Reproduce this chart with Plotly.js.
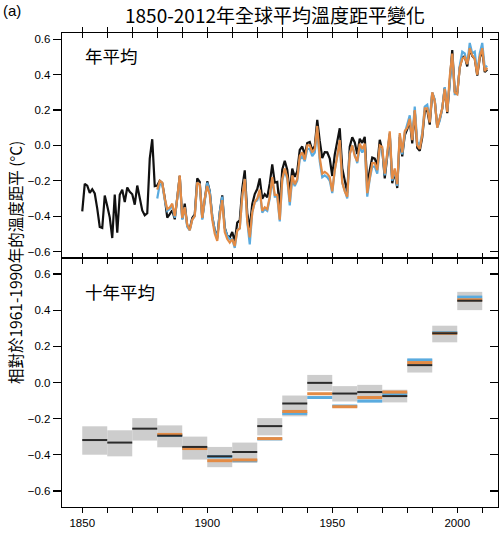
<!DOCTYPE html>
<html>
<head>
<meta charset="utf-8">
<script src="https://cdn.plot.ly/plotly-3.0.1.min.js"></script>
<style>html,body{margin:0;padding:0;background:#fff;}#chart{width:500px;height:535px;}</style>
</head>
<body>
<div id="chart"></div>
<script>
// ---------- DATA ----------
var firstYearHad = 1850;
var firstYearOther = 1880;

// HadCRUT4 annual anomaly (black), 1850-2012
var hadAnnual = [
 -0.373,-0.218,-0.228,-0.269,-0.248,-0.272,-0.358,-0.461,-0.467,-0.284,
 -0.343,-0.407,-0.524,-0.278,-0.494,-0.279,-0.251,-0.321,-0.238,-0.262,
 -0.276,-0.335,-0.227,-0.304,-0.368,-0.395,-0.384,-0.075,0.035,-0.230,
 -0.227,-0.200,-0.213,-0.296,-0.409,-0.389,-0.367,-0.418,-0.307,-0.172,
 -0.416,-0.330,-0.455,-0.473,-0.410,-0.390,-0.186,-0.206,-0.412,-0.289,
 -0.203,-0.259,-0.402,-0.479,-0.520,-0.377,-0.283,-0.465,-0.511,-0.522,
 -0.490,-0.544,-0.437,-0.424,-0.244,-0.141,-0.383,-0.468,-0.333,-0.275,
 -0.247,-0.187,-0.302,-0.276,-0.294,-0.215,-0.108,-0.210,-0.206,-0.350,
 -0.137,-0.087,-0.137,-0.273,-0.131,-0.178,-0.147,-0.026,-0.006,-0.052,
 0.014,0.020,-0.027,-0.004,0.144,0.025,-0.071,-0.038,-0.039,-0.074,
 -0.173,-0.052,0.028,0.097,-0.129,-0.190,-0.267,-0.007,0.046,0.017,
 -0.049,0.038,0.014,0.048,-0.223,-0.140,-0.068,-0.074,-0.113,0.032,
 -0.027,-0.186,-0.065,0.062,-0.214,-0.149,-0.241,0.047,-0.062,0.057,
 0.092,0.140,0.011,0.194,-0.014,-0.030,0.045,0.192,0.198,0.118,
 0.296,0.254,0.105,0.148,0.208,0.325,0.183,0.390,0.539,0.306,
 0.294,0.441,0.496,0.505,0.447,0.545,0.506,0.491,0.395,0.494,
 0.540,0.415,0.430
];

// Orange series annual anomaly, 1880-2012
var orangeAnnual = [
 -0.25,-0.20,-0.21,-0.30,-0.36,-0.35,-0.33,-0.40,-0.30,-0.17,
 -0.41,-0.35,-0.45,-0.48,-0.42,-0.40,-0.21,-0.22,-0.41,-0.30,
 -0.23,-0.28,-0.42,-0.50,-0.54,-0.40,-0.31,-0.49,-0.53,-0.55,
 -0.53,-0.57,-0.48,-0.47,-0.29,-0.19,-0.43,-0.52,-0.38,-0.32,
 -0.30,-0.25,-0.37,-0.35,-0.36,-0.29,-0.18,-0.28,-0.28,-0.42,
 -0.19,-0.13,-0.18,-0.32,-0.17,-0.22,-0.19,-0.06,-0.04,-0.08,
 0.00,0.00,-0.04,-0.02,0.11,-0.07,-0.16,-0.15,-0.16,-0.18,
 -0.26,-0.14,-0.06,0.03,-0.21,-0.26,-0.29,-0.05,0.00,-0.06,
 -0.09,0.01,-0.02,0.01,-0.27,-0.17,-0.10,-0.10,-0.14,0.00,
 -0.01,-0.16,-0.03,0.08,-0.19,-0.13,-0.22,0.07,-0.04,0.08,
 0.10,0.15,0.03,0.20,0.00,-0.02,0.06,0.21,0.21,0.13,
 0.30,0.25,0.10,0.15,0.21,0.32,0.19,0.39,0.52,0.30,
 0.29,0.44,0.49,0.50,0.46,0.55,0.51,0.49,0.40,0.50,
 0.55,0.42,0.44
];

// Blue series annual anomaly, 1880-2012
var blueAnnual = [
 -0.30,-0.22,-0.22,-0.31,-0.37,-0.36,-0.34,-0.41,-0.30,-0.18,
 -0.42,-0.35,-0.46,-0.48,-0.42,-0.40,-0.21,-0.22,-0.42,-0.31,
 -0.21,-0.26,-0.40,-0.48,-0.53,-0.38,-0.29,-0.47,-0.51,-0.53,
 -0.53,-0.58,-0.48,-0.47,-0.29,-0.19,-0.43,-0.56,-0.38,-0.32,
 -0.31,-0.26,-0.38,-0.36,-0.37,-0.30,-0.19,-0.29,-0.29,-0.43,
 -0.20,-0.14,-0.19,-0.34,-0.19,-0.23,-0.20,-0.08,-0.06,-0.09,
 -0.02,-0.02,-0.06,-0.04,0.09,-0.09,-0.18,-0.17,-0.18,-0.20,
 -0.27,-0.14,-0.07,0.02,-0.21,-0.26,-0.30,-0.05,0.00,-0.05,
 -0.10,-0.01,-0.04,-0.01,-0.29,-0.19,-0.12,-0.12,-0.16,-0.02,
 -0.02,-0.17,-0.05,0.07,-0.20,-0.14,-0.23,0.06,-0.05,0.07,
 0.12,0.17,0.04,0.22,0.02,0.00,0.07,0.22,0.23,0.15,
 0.30,0.26,0.10,0.14,0.21,0.33,0.20,0.38,0.51,0.29,
 0.29,0.45,0.53,0.52,0.46,0.58,0.52,0.53,0.41,0.52,
 0.58,0.44,0.45
];

// Decadal means (bottom panel)
var decadeStarts = [1850,1860,1870,1880,1890,1900,1910,1920,1930,1940,1950,1960,1970,1980,1990,2000];
var hadDecadal   = [-0.318,-0.332,-0.255,-0.294,-0.356,-0.408,-0.384,-0.241,-0.116,-0.002,-0.061,-0.053,-0.075,0.096,0.272,0.452];
var hadDecLow    = [-0.399,-0.408,-0.321,-0.358,-0.426,-0.468,-0.444,-0.292,-0.187,-0.046,-0.105,-0.096,-0.110,0.055,0.222,0.400];
var hadDecHigh   = [-0.242,-0.264,-0.197,-0.237,-0.299,-0.356,-0.332,-0.197,-0.072,0.042,-0.020,-0.013,-0.040,0.130,0.314,0.501];
var orangeDecadal= [null,null,null,-0.287,-0.365,-0.432,-0.428,-0.310,-0.160,-0.062,-0.134,-0.083,-0.053,0.110,0.272,0.457];
var blueDecadal  = [null,null,null,-0.292,-0.362,-0.410,-0.432,-0.312,-0.171,-0.083,-0.130,-0.103,-0.062,0.125,0.276,0.472];

var yTicks = [-0.6,-0.4,-0.2,0,0.2,0.4,0.6];

// ---------- BUILD ----------
function yearsFrom(start, n){ var a=[]; for(var i=0;i<n;i++) a.push(start+i); return a; }
var yearsHad = yearsFrom(firstYearHad, hadAnnual.length);
var yearsOther = yearsFrom(firstYearOther, orangeAnnual.length);

function segs(vals){
  var xs=[], ys=[];
  for(var i=0;i<decadeStarts.length;i++){
    if(vals[i]===null) continue;
    xs.push(decadeStarts[i], decadeStarts[i]+10, null);
    ys.push(vals[i], vals[i], null);
  }
  return {x:xs, y:ys};
}
var boxX=[], boxH=[];
for(var i=0;i<decadeStarts.length;i++){ boxX.push(decadeStarts[i]+5); boxH.push(hadDecHigh[i]-hadDecLow[i]); }

var cBlack='#111111', cOrange='#E38B45', cBlue='#5AABDF', cGray='#cdcdcd';
var sB = segs(blueDecadal), sO = segs(orangeDecadal), sK = segs(hadDecadal);

var traces = [
  {type:'scatter', mode:'lines', x:yearsHad, y:hadAnnual, xaxis:'x2', yaxis:'y2', line:{color:cBlack, width:2.2}, hoverinfo:'skip'},
  {type:'scatter', mode:'lines', x:yearsOther, y:blueAnnual, xaxis:'x2', yaxis:'y2', line:{color:cBlue, width:2.2}, hoverinfo:'skip'},
  {type:'scatter', mode:'lines', x:yearsOther, y:orangeAnnual, xaxis:'x2', yaxis:'y2', line:{color:cOrange, width:2.2}, hoverinfo:'skip'},
  {type:'bar', x:boxX, y:boxH, base:hadDecLow, width:10, xaxis:'x', yaxis:'y', marker:{color:cGray, line:{width:0}}, hoverinfo:'skip'},
  {type:'scatter', mode:'lines', x:sB.x, y:sB.y, xaxis:'x', yaxis:'y', line:{color:cBlue, width:3}, connectgaps:false, hoverinfo:'skip'},
  {type:'scatter', mode:'lines', x:sO.x, y:sO.y, xaxis:'x', yaxis:'y', line:{color:cOrange, width:3}, connectgaps:false, hoverinfo:'skip'},
  {type:'scatter', mode:'lines', x:sK.x, y:sK.y, xaxis:'x', yaxis:'y', line:{color:'#2a2a2a', width:2}, connectgaps:false, hoverinfo:'skip'},
  {type:'scatter', mode:'lines', x:[], y:[], xaxis:'x3', yaxis:'y3', hoverinfo:'skip'},
  {type:'scatter', mode:'lines', x:[], y:[], xaxis:'x2', yaxis:'y4', hoverinfo:'skip'}
];

var xr = [1841.9, 2016.3];
var tickFont = {family:'Liberation Sans, Arial, sans-serif', size:11.5, color:'#000'};
var cjk = 'Noto Sans CJK TC, Noto Sans CJK SC, sans-serif';
var split = 0.5253;

var layout = {
  width:500, height:535,
  margin:{l:62, r:2, t:33, b:28, pad:0},
  paper_bgcolor:'#fff', plot_bgcolor:'#fff',
  showlegend:false, barmode:'overlay',
  title:{text:'1850-2012年全球平均溫度距平變化', font:{family:cjk, size:19, color:'#000'},
         x:0.55, xanchor:'center', y:1-16/535, yanchor:'middle'},
  xaxis:{domain:[0,1], anchor:'y', range:xr, tickmode:'linear', tick0:1850, dtick:50,
         ticks:'outside', ticklen:5, tickwidth:1.2, tickcolor:'#000',
         minor:{tickmode:'linear', tick0:1850, dtick:10, ticks:'outside', ticklen:5, tickwidth:1.2, tickcolor:'#000', showgrid:false},
         showline:true, linecolor:'#000', linewidth:1.3, mirror:true, showgrid:false, zeroline:false, tickfont:tickFont},
  xaxis2:{domain:[0,1], anchor:'y2', range:xr, tickmode:'linear', tick0:1850, dtick:10,
         ticks:'inside', ticklen:5, tickwidth:1.2, tickcolor:'#000', showticklabels:false,
         showline:true, linecolor:'#000', linewidth:1.3, mirror:'allticks', showgrid:false, zeroline:false},
  xaxis3:{overlaying:'x', anchor:'y3', side:'top', range:xr, tickmode:'linear', tick0:1850, dtick:10,
         ticks:'inside', ticklen:4, tickwidth:1.2, tickcolor:'#000', showticklabels:false,
         showline:false, showgrid:false, zeroline:false},
  yaxis:{domain:[0,split], anchor:'x', range:[-0.688,0.688], tickmode:'array', tickvals:yTicks, tickformat:'.1f',
         ticks:'outside', ticklen:8, tickwidth:1.2, tickcolor:'#000',
         showline:true, linecolor:'#000', linewidth:1.3, mirror:true, showgrid:false, zeroline:false, tickfont:tickFont},
  yaxis3:{overlaying:'y', anchor:'x3', side:'right', range:[-0.688,0.688], tickmode:'array', tickvals:yTicks,
         ticks:'inside', ticklen:8, tickwidth:1.2, tickcolor:'#000', showticklabels:false,
         showline:false, showgrid:false, zeroline:false},
  yaxis2:{domain:[split,1], anchor:'x2', range:[-0.637,0.636], tickmode:'array', tickvals:yTicks, tickformat:'.1f',
         ticks:'outside', ticklen:8, tickwidth:1.2, tickcolor:'#000',
         showline:true, linecolor:'#000', linewidth:1.3, mirror:true, showgrid:false, zeroline:false, tickfont:tickFont},
  yaxis4:{overlaying:'y2', anchor:'x2', side:'right', range:[-0.637,0.636], tickmode:'array', tickvals:yTicks,
         ticks:'inside', ticklen:8, tickwidth:1.2, tickcolor:'#000', showticklabels:false,
         showline:false, showgrid:false, zeroline:false},
  annotations:[
    {text:'(a)', xref:'paper', yref:'paper', x:(1-62)/436, y:(507-11)/474, xanchor:'left', yanchor:'middle', showarrow:false,
     font:{family:'Liberation Sans, Arial, sans-serif', size:15, color:'#000'}},
    {text:'年平均', xref:'paper', yref:'paper', x:(83-62)/436, y:(507-56)/474, xanchor:'left', yanchor:'middle', showarrow:false,
     font:{family:cjk, size:17.5, color:'#000'}},
    {text:'十年平均', xref:'paper', yref:'paper', x:(83-62)/436, y:(507-291)/474, xanchor:'left', yanchor:'middle', showarrow:false,
     font:{family:cjk, size:17.5, color:'#000'}},
    {text:'相對於1961-1990年的溫度距平 (°C)', xref:'paper', yref:'paper', x:(15-62)/436, y:(507-263)/474,
     xanchor:'center', yanchor:'middle', textangle:-90, showarrow:false,
     font:{family:cjk, size:15.5, color:'#000'}}
  ]
};

Plotly.newPlot('chart', traces, layout, {displayModeBar:false, staticPlot:true});
</script>
</body>
</html>
